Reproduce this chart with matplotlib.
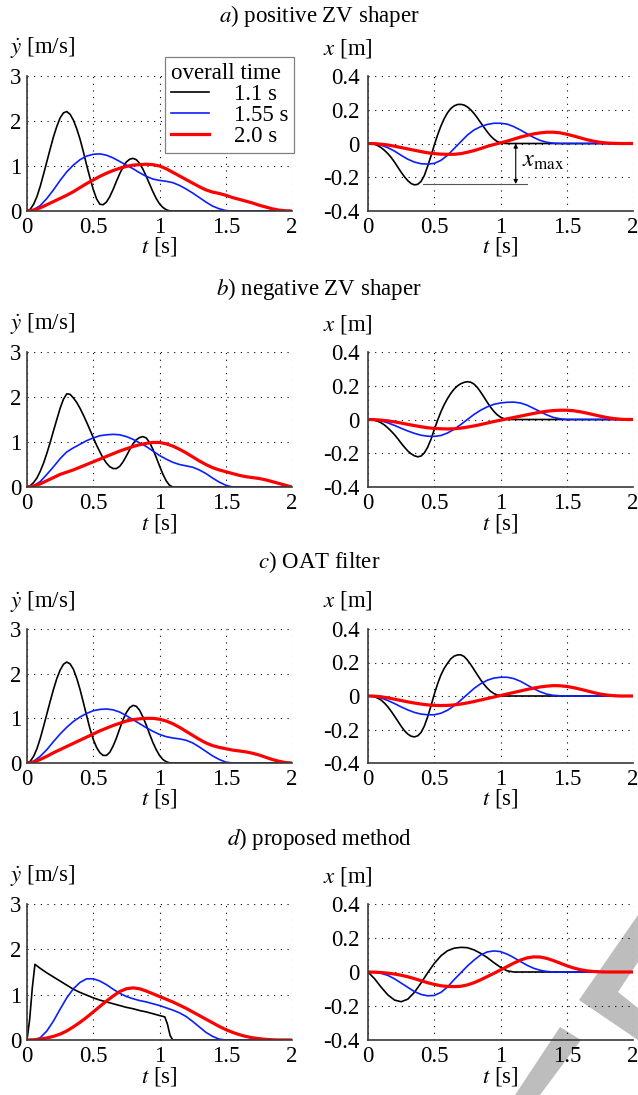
import numpy as np
import matplotlib
matplotlib.use("Agg")
import matplotlib.pyplot as plt
from matplotlib.patches import Polygon

FS = 16.5

plt.rcParams.update(
    {
        "font.family": "serif",
        "font.serif": ["Liberation Serif", "DejaVu Serif"],
        "mathtext.fontset": "stix",
        "font.size": FS,
    }
)

# sample times (s): 0.05 s step, and 0.025 s for the fast 1.1 s runs
t = np.round(np.arange(41) * 0.05, 3)
t_fine = np.round(np.arange(81) * 0.025, 3)


def pad(vals, n=41):
    # signals are zero after the motion has finished
    return np.array(vals + [0.0] * (n - len(vals)))


def pad_fine(vals):
    return pad(vals, 81)


# ---- a) positive ZV shaper ----
va_black = pad_fine([0, 0.04, 0.15, 0.32, 0.55, 0.82, 1.1, 1.38, 1.65, 1.88, 2.07, 2.18,
                     2.21, 2.15, 2.02, 1.83, 1.6, 1.32, 1.02, 0.74, 0.48, 0.27, 0.15,
                     0.14, 0.2, 0.32, 0.48, 0.66, 0.83, 0.98, 1.09, 1.15, 1.17, 1.14,
                     1.06, 0.93, 0.77, 0.6, 0.43, 0.28, 0.16, 0.08, 0.03, 0.005, 0])
va_blue = pad([0, 0.03, 0.12, 0.28, 0.47, 0.68, 0.87, 1.02, 1.14, 1.22, 1.26, 1.27,
               1.24, 1.18, 1.1, 1.02, 0.94, 0.85, 0.77, 0.71, 0.68, 0.66, 0.63, 0.57,
               0.49, 0.4, 0.3, 0.2, 0.11, 0.05, 0.01, 0])
va_red = pad([0, 0.02, 0.07, 0.14, 0.21, 0.28, 0.35, 0.43, 0.52, 0.61, 0.69, 0.77,
              0.84, 0.9, 0.95, 0.99, 1.02, 1.03, 1.04, 1.03, 1.0, 0.94, 0.86, 0.78,
              0.7, 0.62, 0.54, 0.47, 0.42, 0.39, 0.35, 0.3, 0.26, 0.22, 0.18, 0.13,
              0.09, 0.05, 0.02, 0.005, 0])
xa_black = pad_fine([0, -0.001, -0.005, -0.013, -0.025, -0.041, -0.06, -0.083, -0.11,
                     -0.14, -0.17, -0.197, -0.22, -0.237, -0.245, -0.242, -0.225, -0.19,
                     -0.135, -0.075, -0.01, 0.05, 0.103, 0.147, 0.182, 0.207, 0.223,
                     0.231, 0.232, 0.228, 0.217, 0.2, 0.178, 0.152, 0.124, 0.096, 0.069,
                     0.045, 0.026, 0.012, 0.004, 0.001, 0])
xa_blue = pad([0, -0.002, -0.01, -0.025, -0.045, -0.07, -0.093, -0.11, -0.12, -0.122,
               -0.118, -0.1, -0.07, -0.03, 0.01, 0.05, 0.08, 0.1, 0.113, 0.12, 0.12,
               0.115, 0.1, 0.08, 0.058, 0.036, 0.018, 0.007, 0.002, 0])
xa_red = pad([0, -0.001, -0.004, -0.009, -0.016, -0.024, -0.032, -0.04, -0.048, -0.055,
              -0.06, -0.063, -0.064, -0.064, -0.06, -0.052, -0.042, -0.03, -0.017,
              -0.006, 0.004, 0.014, 0.026, 0.038, 0.048, 0.057, 0.063, 0.067, 0.067,
              0.063, 0.055, 0.045, 0.034, 0.023, 0.014, 0.007, 0.003, 0.001, 0])

# ---- b) negative ZV shaper ----
vb_black = pad_fine([0, 0.03, 0.1, 0.2, 0.35, 0.53, 0.75, 0.99, 1.25, 1.5, 1.75, 1.95,
                     2.07, 2.06, 1.98, 1.88, 1.75, 1.6, 1.44, 1.27, 1.1, 0.93, 0.78,
                     0.64, 0.53, 0.45, 0.41, 0.41, 0.46, 0.56, 0.69, 0.83, 0.96, 1.05,
                     1.1, 1.12, 1.09, 0.99, 0.84, 0.66, 0.47, 0.29, 0.14, 0.04, 0])
vb_blue = pad([0, 0.03, 0.12, 0.28, 0.45, 0.63, 0.78, 0.87, 0.95, 1.03, 1.09, 1.14,
               1.16, 1.17, 1.16, 1.12, 1.06, 0.98, 0.9, 0.8, 0.7, 0.62, 0.55, 0.5,
               0.47, 0.44, 0.38, 0.3, 0.2, 0.11, 0.04, 0])
vb_red = pad([0, 0.02, 0.07, 0.14, 0.21, 0.28, 0.33, 0.38, 0.44, 0.5, 0.56, 0.62,
              0.68, 0.74, 0.8, 0.85, 0.9, 0.94, 0.97, 0.99, 0.99, 0.96, 0.91, 0.84,
              0.76, 0.67, 0.58, 0.5, 0.43, 0.38, 0.34, 0.3, 0.26, 0.23, 0.21, 0.19,
              0.16, 0.12, 0.08, 0.04, 0])
xb_black = pad_fine([0, -0.001, -0.005, -0.011, -0.02, -0.033, -0.05, -0.069, -0.09,
                     -0.114, -0.14, -0.164, -0.186, -0.203, -0.215, -0.221, -0.217,
                     -0.198, -0.165, -0.118, -0.06, -0.005, 0.045, 0.088, 0.124, 0.155,
                     0.18, 0.199, 0.212, 0.22, 0.224, 0.221, 0.21, 0.19, 0.163, 0.133,
                     0.102, 0.073, 0.048, 0.028, 0.014, 0.005, 0.001, 0])
xb_blue = pad([0, -0.002, -0.008, -0.02, -0.035, -0.052, -0.068, -0.082, -0.093,
               -0.099, -0.1, -0.095, -0.08, -0.058, -0.03, 0.0, 0.03, 0.055, 0.075,
               0.09, 0.098, 0.102, 0.103, 0.098, 0.085, 0.066, 0.046, 0.027, 0.012,
               0.004, 0])
xb_red = pad([0, -0.001, -0.004, -0.008, -0.014, -0.021, -0.029, -0.036, -0.043,
              -0.049, -0.053, -0.055, -0.056, -0.055, -0.051, -0.045, -0.038, -0.03,
              -0.021, -0.012, -0.004, 0.004, 0.012, 0.02, 0.028, 0.036, 0.043, 0.049,
              0.053, 0.055, 0.055, 0.052, 0.046, 0.038, 0.029, 0.02, 0.012, 0.006,
              0.002, 0])

# ---- c) OAT filter ----
vc_black = pad_fine([0, 0.04, 0.15, 0.32, 0.55, 0.82, 1.1, 1.38, 1.65, 1.89, 2.08, 2.21,
                     2.26, 2.22, 2.1, 1.9, 1.65, 1.36, 1.06, 0.77, 0.53, 0.35, 0.23,
                     0.17, 0.17, 0.24, 0.38, 0.56, 0.77, 0.97, 1.13, 1.24, 1.29, 1.27,
                     1.18, 1.03, 0.85, 0.65, 0.46, 0.3, 0.17, 0.08, 0.03, 0.005, 0])
vc_blue = pad([0, 0.04, 0.15, 0.3, 0.48, 0.65, 0.8, 0.93, 1.03, 1.11, 1.17, 1.2,
               1.21, 1.19, 1.14, 1.06, 0.97, 0.88, 0.79, 0.71, 0.64, 0.59, 0.56,
               0.54, 0.51, 0.45, 0.36, 0.26, 0.16, 0.08, 0.02, 0])
vc_red = pad([0, 0.02, 0.08, 0.15, 0.23, 0.3, 0.37, 0.44, 0.51, 0.58, 0.65, 0.72,
              0.78, 0.84, 0.89, 0.94, 0.97, 0.99, 1.0, 1.0, 0.98, 0.94, 0.88, 0.8,
              0.71, 0.62, 0.53, 0.45, 0.39, 0.35, 0.32, 0.29, 0.27, 0.25, 0.22, 0.18,
              0.13, 0.08, 0.04, 0.01, 0])
xc_black = pad_fine([0, -0.001, -0.005, -0.013, -0.025, -0.043, -0.065, -0.091, -0.12,
                     -0.15, -0.18, -0.207, -0.227, -0.24, -0.244, -0.238, -0.218, -0.18,
                     -0.125, -0.06, 0.01, 0.072, 0.125, 0.165, 0.195, 0.222, 0.238,
                     0.245, 0.246, 0.236, 0.215, 0.188, 0.158, 0.127, 0.097, 0.07,
                     0.047, 0.028, 0.015, 0.006, 0.002, 0])
xc_blue = pad([0, -0.003, -0.012, -0.027, -0.045, -0.065, -0.083, -0.098, -0.108,
               -0.112, -0.112, -0.103, -0.085, -0.058, -0.025, 0.01, 0.045, 0.073,
               0.094, 0.107, 0.112, 0.112, 0.104, 0.088, 0.066, 0.044, 0.025, 0.011,
               0.004, 0.001, 0])
xc_red = pad([0, -0.001, -0.005, -0.011, -0.019, -0.027, -0.035, -0.042, -0.048,
              -0.053, -0.056, -0.057, -0.056, -0.053, -0.048, -0.041, -0.033, -0.024,
              -0.015, -0.006, 0.003, 0.012, 0.021, 0.03, 0.039, 0.047, 0.054, 0.059,
              0.062, 0.061, 0.057, 0.05, 0.041, 0.031, 0.021, 0.012, 0.006, 0.002, 0])

# ---- d) proposed method ----
td_black = [0, 0.02, 0.04, 0.06, 0.1, 0.15, 0.2, 0.25, 0.3, 0.35, 0.4, 0.45, 0.5,
            0.55, 0.6, 0.65, 0.7, 0.75, 0.8, 0.85, 0.9, 0.95, 1.0, 1.04, 1.06, 1.08,
            1.1, 2.0]
vd_black = [0, 0.45, 1.15, 1.67, 1.58, 1.48, 1.39, 1.3, 1.21, 1.12, 1.05, 0.99, 0.93,
            0.88, 0.84, 0.8, 0.76, 0.72, 0.69, 0.65, 0.62, 0.58, 0.54, 0.51, 0.35,
            0.1, 0, 0]
vd_blue = pad([0, 0.0, 0.05, 0.2, 0.42, 0.68, 0.93, 1.13, 1.27, 1.35, 1.35, 1.3,
               1.22, 1.12, 1.03, 0.96, 0.91, 0.87, 0.84, 0.8, 0.76, 0.71, 0.66, 0.6,
               0.52, 0.41, 0.29, 0.17, 0.08, 0.02, 0])
vd_red = pad([0, 0.005, 0.02, 0.045, 0.08, 0.13, 0.2, 0.29, 0.39, 0.5, 0.62, 0.74,
              0.86, 0.97, 1.07, 1.13, 1.15, 1.13, 1.08, 1.02, 0.96, 0.9, 0.84, 0.77,
              0.7, 0.62, 0.54, 0.46, 0.38, 0.3, 0.23, 0.17, 0.12, 0.08, 0.05, 0.03,
              0.015, 0.005, 0])
xd_black = pad([0, -0.04, -0.09, -0.135, -0.165, -0.175, -0.16, -0.12, -0.065,
                -0.005, 0.05, 0.095, 0.125, 0.14, 0.145, 0.143, 0.13, 0.11, 0.085,
                0.055, 0.028, 0.007, 0])
xd_blue = pad([0, -0.002, -0.008, -0.02, -0.04, -0.065, -0.09, -0.115, -0.132, -0.14,
               -0.138, -0.12, -0.088, -0.045, -0.005, 0.035, 0.07, 0.1, 0.118, 0.124,
               0.12, 0.105, 0.085, 0.062, 0.04, 0.022, 0.01, 0.003, 0])
xd_red = pad([0, -0.001, -0.003, -0.007, -0.012, -0.019, -0.028, -0.039, -0.051,
              -0.063, -0.073, -0.081, -0.085, -0.086, -0.084, -0.076, -0.063, -0.046,
              -0.027, -0.008, 0.012, 0.032, 0.052, 0.07, 0.083, 0.089, 0.088, 0.08,
              0.067, 0.052, 0.037, 0.024, 0.014, 0.007, 0.003, 0.001, 0])

titles = ["$a$) positive ZV shaper", "$b$) negative ZV shaper",
          "$c$) OAT filter", "$d$) proposed method"]
series_labels = ["1.1 s", "1.55 s", "2.0 s"]
legend_title = "overall time"

t_ticks = [0, 0.5, 1, 1.5, 2]
t_ticklabels = ["0", "0.5", "1", "1.5", "2"]
v_ticks = [0, 1, 2, 3]
v_ticklabels = ["0", "1", "2", "3"]
x_ticks = [-0.4, -0.2, 0, 0.2, 0.4]
x_ticklabels = ["-0.4", "-0.2", "0", "0.2", "0.4"]

# x_max marker in panel a
xmax_level = -0.24
xmax_t = 1.115

velocity = [
    [(t_fine, va_black), (t, va_blue), (t, va_red)],
    [(t_fine, vb_black), (t, vb_blue), (t, vb_red)],
    [(t_fine, vc_black), (t, vc_blue), (t, vc_red)],
    [(td_black, vd_black), (t, vd_blue), (t, vd_red)],
]
position = [
    [(t_fine, xa_black), (t, xa_blue), (t, xa_red)],
    [(t_fine, xb_black), (t, xb_blue), (t, xb_red)],
    [(t_fine, xc_black), (t, xc_blue), (t, xc_red)],
    [(t, xd_black), (t, xd_blue), (t, xd_red)],
]

colors = ["black", "#0a1eff", "#ff0000"]
widths = [1.2, 1.2, 2.3]

W, H = 638, 1095
fig = plt.figure(figsize=(W / 100, H / 100), dpi=100)

# axes placement in pixels: (top, bottom) per row, (left, right) per column
rows_px = [(76, 211), (352, 487), (629, 763), (904, 1040)]
title_px = [16, 289, 562, 839]
cols_px = [(27, 292), (368, 633)]


def px_axes(left, right, top, bottom):
    return fig.add_axes([left / W, 1 - bottom / H, (right - left) / W, (bottom - top) / H])


def style(ax, yticks, ylabels, ypad):
    ax.set_facecolor("none")
    ax.set_xlim(0, 2)
    ax.set_xticks(t_ticks)
    ax.set_xticklabels(t_ticklabels)
    ax.set_yticks(yticks)
    ax.set_yticklabels(ylabels)
    ax.set_ylim(yticks[0], yticks[-1])
    for s in ["top", "right"]:
        ax.spines[s].set_visible(False)
    for s in ["left", "bottom"]:
        ax.spines[s].set_color("#3a3a3a")
        ax.spines[s].set_linewidth(1.2)
    ax.grid(True, color="black", linewidth=0.8, linestyle=(0, (1, 5)))
    ax.tick_params(axis="both", length=0, labelsize=FS)
    ax.tick_params(axis="x", pad=4)
    ax.tick_params(axis="y", pad=ypad)


for i in range(4):
    top, bottom = rows_px[i]
    fig.text(0.5, 1 - title_px[i] / H, titles[i], ha="center", va="center")

    axv = px_axes(cols_px[0][0], cols_px[0][1], top, bottom)
    style(axv, v_ticks, v_ticklabels, 4)
    for k, (tt, vv) in enumerate(velocity[i]):
        axv.plot(tt, vv, color=colors[k], lw=widths[k], label=series_labels[k])

    axx = px_axes(cols_px[1][0], cols_px[1][1], top, bottom)
    style(axx, x_ticks, x_ticklabels, 6)
    for k, (tt, xx) in enumerate(position[i]):
        axx.plot(tt, xx, color=colors[k], lw=widths[k])

    # axis captions
    fig.text(10 / W, 1 - (top - 28) / H, r"$\dot{y}$ [m/s]", ha="left", va="center")
    fig.text(323 / W, 1 - (top - 28) / H, r"$x$ [m]", ha="left", va="center")
    for (l, r) in cols_px:
        fig.text((l + r) / 2 / W, 1 - (bottom + 36) / H, r"$t$ [s]",
                 ha="center", va="center")

    if i == 0:
        leg = axv.legend(title=legend_title, loc="upper right",
                         bbox_to_anchor=(1.008, 1.14), borderaxespad=0,
                         frameon=True, fancybox=False, framealpha=1,
                         edgecolor="#808080", fontsize=FS, title_fontsize=FS,
                         handlelength=1.65, handletextpad=1.1, labelspacing=0.0,
                         borderpad=0.25, alignment="left")
        leg.get_frame().set_linewidth(0.9)
        leg.set_zorder(5)
        # x_max dimension
        axx.plot([0.415, 1.2], [xmax_level, xmax_level], color="#555555", lw=0.8)
        axx.annotate("", xy=(xmax_t, 0), xytext=(xmax_t, xmax_level),
                     arrowprops=dict(arrowstyle="<|-|>", color="black", lw=0.8,
                                     mutation_scale=6, shrinkA=0, shrinkB=0))
        axx.text(1.16, -0.105, r"$x_{\mathrm{max}}$", ha="left", va="center",
                 fontsize=FS + 1)

# grey chevron marks in the lower right corner
marks = [
    [(638, 915), (579, 1000), (638, 1040), (638, 1008), (618, 992), (638, 962)],
    [(560, 1027), (581, 1040), (540, 1095), (515, 1095)],
]
for pts in marks:
    fig.patches.append(Polygon([(x / W, 1 - y / H) for x, y in pts], closed=True,
                               transform=fig.transFigure, facecolor="#bdbdbd",
                               edgecolor="none", zorder=-1))

fig.savefig("out.png", dpi=100)
